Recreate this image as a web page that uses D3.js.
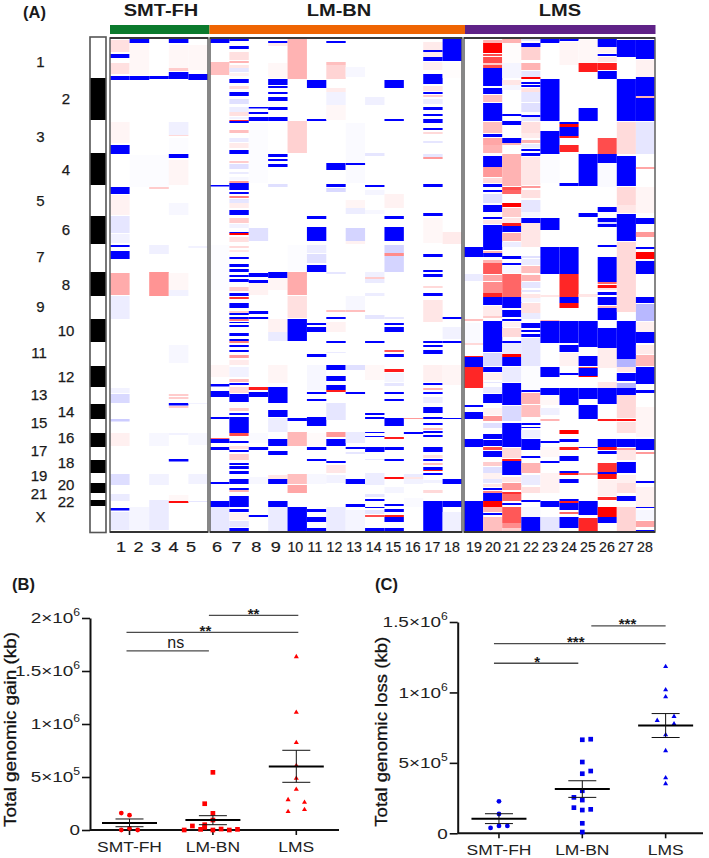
<!DOCTYPE html>
<html>
<head>
<meta charset="utf-8">
<script src="https://cdn.jsdelivr.net/npm/d3@7"></script>
<style>
  html, body { margin: 0; padding: 0; background: #fff; }
  svg { display: block; font-family: "Liberation Sans", Arial, sans-serif; }
</style>
</head>
<body>
<div id="chart"></div>
<script>
// heatmap: chromosomes along the genome track (0 - 494)
var chromNames = ["1","2","3","4","5","6","7","8","9","10","11","12","13","14","15","16","17","18","19","20","21","22","X"];
var chromStarts = [0,40,82,115,147,178,206,234,258,281,304,328,349,366,381,395,409,422,435,445,455,462,468];
var trackEnd = 494;

var groupNames = ["SMT-FH","LM-BN","LMS"];
var groupSamples = [[1,2,3,4,5],[6,7,8,9,10,11,12,13,14,15,16,17,18],[19,20,21,22,23,24,25,26,27,28]];

// segments per sample: [start, end, log ratio] (-1 = full loss, 1 = full gain)
var s1 = [[2,14,.12],[16,20,-1],[25,36,.12],[38,42,-1],[84,105,.04],[107,116,-1],[149,156,-1],[157,177,.05],[178,195,-.1],[196,205,-.05],[207,209,-1],[213,221,-1],[235,257,.33],[258,281,-.07],[350,355,-.05],[356,365,-.15],[381,383.5,-.2],[395,408,.06],[436,447,-.13],[456,463,-.08],[470,472.5,-1],[474,492,-.08]];
var s2 = [[1,5,-1],[5,37,.03],[38,42,-1],[117,149,-.01],[469,492,-.04]];
var s3 = [[38,41,-1],[117,149,-.01],[149,151,.2],[207,216,-.06],[234,258,.42],[395,408,-.03],[436,447,-.05],[462,492,-.08]];
var s4 = [[1,5,-1],[7,30,.03],[30,33,.2],[34,41,-1],[84,97,-.06],[97,98,.15],[100,115,-.01],[116,120,-1],[122,147,.04],[165,177,-.03],[235,252,.03],[252,258,-.05],[307,325,-.03],[356,358,.2],[359,361,.2],[365,367.5,-1],[368,370,.2],[395,397,-.05],[421,423.5,-1],[457,463,.03],[463,465,.95]];
var s5 = [[7,32,.03],[36,42,-1],[208,210,-.05],[365,366,-.05],[395,407,-.03],[436,446,-.05],[463,464,-.1]];
var s6 = [[1,5,-1],[24,37,.25],[147,148.5,-1],[207,252,-.01],[327,339,.04],[346,348.5,-1],[353,359,-1],[379,381,-1],[400,401,.6],[401,405,-1],[409,412,-1],[444,446,-1],[463,469,-1],[469,494,-.09]];
var s7 = [[1,3,-1],[8,11,-1],[14,22,.12],[23,25,.3],[27,30,.1],[30,34,-.1],[35,38,.05],[41,45,-1],[48,51,.15],[54,58,-1],[61,66,-.12],[69,74,-.07],[74,78,.12],[79,81,-.05],[82,83,.8],[83,85,-1],[92,95,.25],[100,104,-.08],[105,110,.08],[112,116,-1],[123,125,.2],[126,131,-.12],[134,136,-.08],[139,142,-.03],[143,145,.4],[145,152,-1],[154,156,-1],[158,160,.5],[161,165,-.1],[165,170,.07],[172,177,-1],[180,185,.2],[186,190,-.05],[194,195,-1],[195,197,1],[199,204,.12],[208,210,.15],[212,214,.1],[219,221,-1],[226,229,-1],[231,234,-1],[237,239,-1],[241,244,-1],[249,253,.2],[255,258,-1],[259,261,.8],[265,270,-1],[273,275,.2],[275,277,-1],[279,281,-1],[281,283,.5],[284,285,-1],[287,289,-1],[295,298,-1],[301,303,-1],[303,305,.5],[307,309,-1],[312,314,-1],[317,320,.4],[322,327,.08],[329,339,-.05],[341,344,.25],[345,347,-1],[349,355,.15],[356,364,-1],[370,373,.2],[375,377,-1],[379,395,-1],[395,398,.7],[403,405,-1],[408,411,.12],[412,414,-1],[416,422,.2],[425,427,-1],[428,431,-1],[433,436,-1],[441,446,-1],[450,452,-1],[452,454,.3],[458,469,-1],[471,474,-1],[475,482,.05],[483,489,-.1],[490,494,-1]];
var s8 = [[69,70.5,-1],[74,76,-1],[79,83,-1],[85,145,-.01],[190,203,-.12],[235,239,-1],[242,245,-1],[245,257,.05],[273,276,-1],[279,281,-1],[349,352,.9],[354,359,-1],[395,405,-.02],[409,412,-1],[439,446,-.03],[477,479,-1]];
var s9 = [[3,5,-1],[5,8,.08],[25,40,.03],[41,47,-1],[48,50,-1],[54,56,-1],[59,63,-1],[69,72,-1],[79,83,-1],[116,119,-1],[121,123,-1],[126,129,-1],[146,149,-.12],[234,240,-1],[240,252,.04],[281,294,.05],[294,303,-.08],[327,345,.04],[349,365,-1],[372,379,-1],[380,394,-.07],[401,408,-1],[413,417,-1],[437,441,.1],[441,446,-1],[463,469,-1],[469,494,-.08]];
var s10 = [[1,41,.3],[83,115,.18],[207,233,-.01],[234,257,.33],[258,280,.12],[281,303,-1],[380,383,-1],[394,408,.28],[436,446,.25],[447,455,.35],[469,494,-1]];
var s11 = [[42,50,-1],[81,83,-1],[178,181,-1],[189,203,-1],[207,215,-.07],[216,225,-.12],[227,234,-1],[285,287,-1],[289,294,-1],[316,319,-1],[327,352,-.03],[354,356,-1],[361,363,-1],[379,388,-1],[395,408,.02],[409,412,-1],[421,423,-1],[436,446,-.03],[471,474,-1],[479,484,-1],[490,494,-1]];
var s12 = [[3,5,-1],[24,27,.25],[27,41,.17],[50,54,.08],[54,67,-.05],[67,82,.03],[125,132,-1],[146,149,-1],[150,154,-.15],[234,236,-.1],[272,274,.25],[279,281,-1],[284,294,.05],[303,305,-1],[314,315,-.08],[327,332,-1],[338,343,-1],[347,352,-1],[352,354,.9],[365,382,-.1],[394,399,.4],[401,408,-1],[423,425,-1],[427,435,.1],[437,445,-.05],[469,494,-.08]];
var s13 = [[29,39,-.03],[85,145,-.02],[125,127,-1],[162,170,.04],[170,176,-.07],[190,203,-.17],[203,206,.05],[258,272,-.03],[272,274,.25],[327,332,-.12],[354,356,-1],[394,405,-.08],[409,411,-1],[414,416,-.1],[441,446,-1],[466,469,-1],[472,494,-.04]];
var s14 = [[59,67,-.06],[115,118,-.1],[147,149,-1],[152,157,-.04],[172,176,-.03],[234,239,-.06],[239,241,.2],[241,245,-.08],[255,258,-.07],[277,281,-.1],[303,305,-1],[327,342,.03],[375,377,-1],[379,381,-1],[394,395,-1],[398,399,-1],[409,414,-1],[421,422,-.1],[435,447,-.07],[456,459,-.1],[461,463,-1],[469,470,-1],[472,476,-.1],[477,479,.7],[490,494,-1]];
var s15 = [[42,50,-1],[81,83,-1],[156,170,.05],[178,181,-1],[189,203,-1],[207,215,-.17],[215,218,.45],[218,234,-.17],[279,281,-.1],[285,287,-1],[289,294,-1],[312,314,.65],[316,319,-1],[331,334,.9],[335,344,-.04],[345,348,-.1],[354,356,-1],[361,363,-1],[380,388,-1],[399,401,.9],[409,412,-1],[421,423,-1],[439,441,.95],[449,455,-.04],[466,468,-1],[471,474,-1],[477,479,.9],[479,484,-1],[490,494,-1]];
var s16 = [[380,381,.4],[394,396,-1],[436,439,-.08],[439,441,.1],[441,446,-.05],[460,469,-.02]];
var s17 = [[4,12,.08],[12,14,-1],[14,19,.08],[19,23,-1],[24,32,.06],[36,46,-1],[48,53,.1],[54,56,-1],[57,59,.2],[61,66,-.08],[69,72,-1],[76,78,-1],[81,85,-1],[90,92,-1],[94,96,.15],[103,105,-.1],[116,119,-.1],[119,121,.4],[146,149,-1],[175,178,-1],[180,205,.03],[216,219,-1],[232,234,-1],[236,239,-1],[248,250,.15],[255,258,-1],[262,284,.1],[303,305,-1],[307,309,-1],[312,316,-1],[327,344,.06],[345,347,-1],[350,352,.3],[354,356,-1],[359,365,-.07],[369,375,-1],[379,381,-1],[385,387,-1],[390,392,.25],[393,395,-1],[397,399,-1],[409,414,-1],[417,420,.12],[421,423,-1],[425,427,.25],[429,432,-1],[432,433,.9],[435,437,-1],[442,445,-.05],[452,455,.15],[463,494,-1]];
var s18 = [[1,23,-1],[24,40,.01],[194,206,.08],[279,281,-1],[289,301,-.05],[303,305,-1],[327,347,.04],[380,381,-1],[441,446,-1],[463,469,-1],[474,494,-.06]];
var s19 = [[209,219,-1],[236,243,-.08],[281,283,.25],[285,305,-.02],[305,307,.15],[318,319,.9],[319,329,-1],[329,350,.85],[367,369,-1],[374,381,-1],[401,409,-1],[463,494,-1]];
var s20 = [[2,5,.3],[5,15,1],[16,18,.7],[19,25,.7],[25,27,.2],[27,30,.7],[30,48,-1],[50,56,-1],[57,64,.25],[65,83,-1],[84,95,.25],[96,99,-1],[100,107,.35],[107,115,.3],[118,129,-1],[129,139,.4],[140,145,.15],[146,149,-1],[152,154,-1],[156,165,-.12],[167,174,-1],[179,181,-1],[182,186,.1],[187,212,-1],[213,215,.3],[215,219,-1],[222,225,.3],[225,236,.65],[237,243,.35],[244,255,.45],[255,259,.85],[259,267,-1],[268,278,.08],[278,280,.2],[283,314,-1],[315,328,-.15],[329,334,-1],[335,342,.06],[344,345,-.1],[349,355,-.08],[356,365,-1],[370,377,.05],[378,383,.4],[385,390,-.12],[396,401,-1],[402,408,-1],[409,412,.7],[413,419,-1],[424,428,.2],[429,435,-.12],[435,441,.05],[441,445,-.1],[446,449,.1],[450,452,-1],[453,455,.5],[455,463,-1],[463,469,1],[469,474,.3],[475,477,-1],[479,494,.25]];
var s21 = [[1,5,.3],[5,25,.01],[25,40,-.04],[42,47,.1],[47,52,-.04],[76,78,-1],[83,87,-1],[100,105,-1],[105,107,.3],[116,148,.3],[149,152,.7],[152,156,.6],[165,169,1],[170,179,.2],[180,185,.1],[185,188,.9],[188,194,-1],[195,203,.3],[204,209,-.07],[218,221,-1],[225,227,-1],[228,235,-.03],[236,259,.6],[259,270,-1],[272,279,-1],[281,283,-1],[284,289,.05],[290,299,.15],[303,305,-1],[305,316,-.08],[316,319,1],[319,328,-1],[329,344,-.08],[345,367,-1],[368,383,-.15],[385,409,-1],[410,420,.15],[421,423,.9],[423,437,-1],[439,444,.1],[445,452,.4],[454,456,.8],[456,463,.6],[465,467,-1],[469,485,.65],[485,490,.45],[490,494,.2]];
var s22 = [[1,3,-.1],[5,9,-1],[9,22,.18],[25,32,.3],[33,39,-.1],[39,41,1],[44,46,-1],[47,49,-1],[50,54,.12],[54,64,-.1],[65,74,-.12],[77,79,-1],[79,83,-.1],[84,95,.12],[95,100,.08],[102,105,.3],[106,110,-.08],[111,113,-1],[115,118,-1],[119,147,.1],[148,150,.4],[152,160,.12],[162,174,-.1],[174,179,-.03],[180,185,-1],[185,209,.1],[218,220,-.12],[221,227,-.08],[228,235,.25],[237,243,.3],[244,250,-.1],[252,254,-.1],[256,260,.1],[260,264,-.04],[265,275,.12],[275,281,-.08],[285,290,-1],[292,294,-1],[296,299,-1],[300,305,-.1],[305,328,-.1],[328,352,-.01],[352,354,-1],[355,366,.3],[367,379,.25],[385,387,-1],[389,390,-1],[392,400,-.06],[401,412,-1],[418,420,-1],[425,435,.3],[437,447,-.08],[449,455,.12],[462,464,-1],[469,479,-.03],[479,494,-1]];
var s23 = [[1,5,-1],[41,83,-1],[93,116,-1],[117,145,-.01],[180,192,-1],[209,236,-1],[257,259,.1],[282,283,.3],[283,305,-1],[329,339,-1],[350,357,-1],[358,367,.03],[370,377,-.06],[381,383,.3],[403,405,-1],[409,419,.03],[423,425,-1],[435,455,.05],[463,469,-1],[479,494,-.1]];
var s24 = [[1,3,-1],[4,27,.04],[84,86,-1],[86,89,1],[89,98,-1],[98,100,.9],[107,114,.85],[145,148,-1],[209,236,-1],[236,259,.85],[259,265,-1],[265,270,.95],[283,305,-1],[307,314,-1],[315,328,.05],[335,337,-1],[350,367,-1],[392,396,1],[401,404,-1],[409,412,.9],[418,423,-1],[433,435,-1],[435,437,.9],[441,445,-1],[461,463,-1],[463,465,.9],[465,472,-1],[474,476,.6],[479,490,-1]];
var s25 = [[2,25,.03],[25,34,.9],[70,83,-1],[116,148,-1],[175,179,-1],[256,259,.1],[283,309,-1],[318,328,-1],[329,330,.7],[330,338,-1],[338,339,1],[350,361,-1],[367,381,-1],[409,410,-1],[435,437,.4],[463,477,-1],[480,494,.85]];
var s26 = [[1,9,-1],[9,15,.05],[16,18,-1],[19,24,.1],[25,32,.9],[33,41,-1],[100,116,.7],[116,125,-1],[125,149,-.02],[169,174,-1],[180,184,-1],[184,186,-.15],[186,189,-1],[207,209,-1],[219,244,-1],[244,246,.6],[247,250,.95],[250,252,.1],[254,257,-1],[259,267,-1],[268,270,.3],[270,282,-1],[290,310,-1],[310,330,.07],[344,350,.1],[350,366,-1],[381,383,.9],[401,409,-1],[409,412,.95],[413,416,-1],[425,434,.8],[434,436,-1],[436,441,.95],[442,458,.06],[459,462,.85],[469,479,1],[479,485,-1]];
var s27 = [[2,19,-1],[41,83,-1],[84,116,.14],[118,148,-1],[149,167,.15],[167,175,.1],[176,203,-1],[204,274,.15],[283,321,-1],[321,329,-.3],[329,334,.1],[335,343,-1],[345,350,-.3],[350,357,-1],[357,380,.15],[381,383,.95],[384,395,.12],[401,409,-1],[410,412,.4],[412,422,.1],[424,435,-1],[437,445,.06],[445,455,.12],[458,463,-1],[469,494,.17]];
var s28 = [[2,21,-1],[22,39,.05],[39,58,-1],[58,60,.3],[60,83,-1],[84,116,-.1],[129,131,.35],[149,175,.04],[180,186,-1],[194,199,.4],[209,211,-1],[214,221,1],[223,236,-1],[259,265,-1],[266,283,-.28],[284,294,.06],[294,305,-1],[307,316,.08],[317,328,.28],[329,346,-1],[352,355,-1],[369,399,.04],[401,412,-1],[414,416,.4],[443,445,-1],[449,469,.05],[469,470,-1],[472,482,-.03],[483,489,.35],[492,494,-1]];
var sampleSegments = [s1,s2,s3,s4,s5,s6,s7,s8,s9,s10,s11,s12,s13,s14,s15,s16,s17,s18,s19,s20,s21,s22,s23,s24,s25,s26,s27,s28];

// panel B: total genomic gain (kb)
var gainSmtFh = [160000,140000,16000,0,0];
var gainSmtFhSlot = [-1,0,0,-1,1];
var gainLmBn = [544000,248000,157000,94000,50000,38000,25000,6000,0,0,9000,0,6000];
var gainLmBnSlot = [0,-1,0,0,-1,-2.5,-1,-1.5,-3.5,0,1,2,3];
var gainLms = [1635000,1110000,824000,607000,487000,384000,286000,261000,192000,173000];
var gainLmsSlot = [0,0,0,0,0,0,-1,1,1,-1];
var gainMean = [66000,94000,600000];
var gainUpper = [104000,135000,752000];
var gainLower = [31000,50000,450000];
var gainTicks = [0,500000,1000000,1500000,2000000];
var gainTickLabels = ["0","5×10|5","1×10|6","1.5×10|6","2×10|6"];
var gainSigFrom = ["LM-BN","SMT-FH","SMT-FH"];
var gainSigTo = ["LMS","LMS","LM-BN"];
var gainSigLevel = [2025000,1865000,1689000];
var gainSigText = ["**","**","ns"];

// panel C: total genomic loss (kb)
var lossSmtFh = [227000,137000,38000,52000,52000];
var lossSmtFhSlot = [0,0,-1,0,1];
var lossLmBn = [664000,668000,506000,423000,442000,302000,255000,236000,182000,165000,170000,71000,9000];
var lossLmBnSlot = [0,1,0,0,1,0,-1,0,-1,0,1,0,0];
var lossLms = [1183000,1018000,969000,829000,801000,777000,699000,586000,394000,352000];
var lossLmsSlot = [0,0,0,1,-1,1,0,0,0,0];
var lossMean = [104000,314000,765000];
var lossUpper = [139000,373000,850000];
var lossLower = [69000,255000,680000];
var lossTicks = [0,500000,1000000,1500000];
var lossTickLabels = ["0","5×10|5","1×10|6","1.5×10|6"];
var lossSigFrom = ["LM-BN","SMT-FH","SMT-FH"];
var lossSigTo = ["LMS","LMS","LM-BN"];
var lossSigLevel = [1472000,1346000,1207000];
var lossSigText = ["***","***","*"];

var width = 709, height = 858;
var svg = d3.select("#chart").append("svg").attr("width", width).attr("height", height);
var ink = "#1a1a1a";

// the source figure is soft, this takes the edge off the heat cells
svg.append("defs").append("filter").attr("id", "soft")
    .attr("x", "-1%").attr("y", "-1%").attr("width", "102%").attr("height", "102%")
    .append("feGaussianBlur").attr("stdDeviation", 0.45);

function panelLabel(text, x, y){
    svg.append("text").attr("x", x).attr("y", y)
        .attr("font-size", 16.5).attr("font-weight", "bold").attr("fill", ink).text(text);
}
panelLabel("(A)", 23, 18);
panelLabel("(B)", 12, 590);
panelLabel("(C)", 375, 590);

/* ---- heatmap ---- */
var yTrack = d3.scaleLinear().domain([0, trackEnd]).range([38, 532]);
var heatColor = d3.scaleLinear().domain([-1, 0, 1]).range(["#0000ff", "#ffffff", "#ff0000"]);

var panelRanges = [[110,208],[210,462],[464,655]];
var headerRanges = [[110,209.5],[209.5,465],[465,655.5]];
var headerColors = ["#0b7a2d", "#ef6402", "#5f2287"];
var labelRanges = [[121,191],[217,452],[474,645]];
var groupLabelX = [161, 339, 560];

var heat = svg.append("g").attr("class", "heat").attr("filter", "url(#soft)");

groupNames.forEach(function(name, g){
    var xBand = d3.scaleBand().domain(groupSamples[g]).range(panelRanges[g]);
    var xLabel = d3.scalePoint().domain(groupSamples[g]).range(labelRanges[g]);

    svg.append("text")
        .attr("transform", "translate(" + groupLabelX[g] + ",15.5) scale(1.18,1)")
        .attr("text-anchor", "middle").attr("font-size", 17).attr("font-weight", "bold")
        .attr("fill", ink).text(name);

    svg.append("rect").attr("x", headerRanges[g][0]).attr("y", 25)
        .attr("width", headerRanges[g][1] - headerRanges[g][0]).attr("height", 9)
        .attr("fill", headerColors[g]);

    var col = heat.selectAll("g.col" + g).data(groupSamples[g]).enter().append("g").attr("class", "col" + g);
    col.selectAll("rect")
        .data(function(d){ return sampleSegments[d - 1]; })
        .enter().append("rect")
        .attr("x", function(){ return xBand(d3.select(this.parentNode).datum()); })
        .attr("width", xBand.bandwidth())
        .attr("y", function(d){ return yTrack(d[0]); })
        .attr("height", function(d){ return yTrack(d[1]) - yTrack(d[0]); })
        .attr("fill", function(d){ return heatColor(d[2]); });

    // frame, grey on the sides and darker top and bottom
    var x0 = panelRanges[g][0], x1 = panelRanges[g][1];
    svg.append("rect").attr("x", x0).attr("y", yTrack(0)).attr("width", x1 - x0).attr("height", yTrack(trackEnd) - yTrack(0))
        .attr("fill", "none").attr("stroke", "#6a6a6a").attr("stroke-width", 1.6);
    svg.append("line").attr("x1", x0).attr("x2", x1).attr("y1", yTrack(0)).attr("y2", yTrack(0))
        .attr("stroke", "#222").attr("stroke-width", 1.4);
    svg.append("line").attr("x1", x0).attr("x2", x1).attr("y1", yTrack(trackEnd)).attr("y2", yTrack(trackEnd))
        .attr("stroke", "#333").attr("stroke-width", 2);

    // single digits are drawn wider in the source than the two digit ones
    svg.append("g").selectAll("text").data(groupSamples[g]).enter().append("text")
        .attr("transform", function(d){ return "translate(" + xLabel(d) + ",552) scale(" + (d < 10 ? 1.25 : 0.98) + ",1)"; })
        .attr("text-anchor", "middle").attr("font-size", 14.5).attr("fill", ink)
        .attr("stroke", ink).attr("stroke-width", 0.2)
        .text(function(d){ return d; });
});

// chromosome strip and labels
var chromEnds = chromStarts.slice(1).concat([trackEnd]);
var labelNudge = [4,0,0,1,0,0,-1,1,-1,0,-1,0,-1,0,-3,-2,-3,-4,-2,-3,-3,-1,-2];
svg.append("g").selectAll("rect").data(chromNames).enter().append("rect")
    .attr("x", 90).attr("width", 16)
    .attr("y", function(d, i){ return yTrack(chromStarts[i]); })
    .attr("height", function(d, i){ return yTrack(chromEnds[i]) - yTrack(chromStarts[i]); })
    .attr("fill", function(d, i){ return i % 2 ? "#000" : "#fff"; });
svg.append("rect").attr("x", 90).attr("y", 37).attr("width", 16).attr("height", 495.5)
    .attr("fill", "none").attr("stroke", "#555").attr("stroke-width", 1.6);

svg.append("g").selectAll("text").data(chromNames).enter().append("text")
    .attr("x", function(d, i){ return i % 2 ? 66 : (d.length > 1 ? 39 : 40.5); })
    .attr("y", function(d, i){ return (yTrack(chromStarts[i]) + yTrack(chromEnds[i])) / 2 + labelNudge[i]; })
    .attr("dy", "0.36em").attr("text-anchor", "middle").attr("font-size", 15).attr("fill", ink)
    .attr("stroke", ink).attr("stroke-width", 0.25)
    .text(function(d){ return d; });

/* ---- scatter panels ---- */
function scatterPanel(o){
    var g = svg.append("g");
    var x = d3.scaleBand().domain(groupNames).range(o.xRange);
    var y = d3.scaleLinear().domain([0, o.yMax]).range(o.yRange);
    var center = function(name){ return x(name) + x.bandwidth() / 2; };

    o.sigFrom.forEach(function(from, i){
        var x0 = center(from) + o.sigNudge[i][0], x1 = center(o.sigTo[i]) + o.sigNudge[i][1];
        g.append("line").attr("x1", x0).attr("x2", x1)
            .attr("y1", y(o.sigLevel[i])).attr("y2", y(o.sigLevel[i]))
            .attr("stroke", "#4a4a4a").attr("stroke-width", 1.3);
        var isNs = o.sigText[i] === "ns";
        g.append("text").attr("x", (x0 + x1) / 2 + o.sigNudge[i][2])
            .attr("y", y(o.sigLevel[i]) + (isNs ? -3 : 3.5))
            .attr("text-anchor", "middle").attr("fill", ink)
            .attr("font-size", isNs ? 16 : 15).attr("font-weight", isNs ? "normal" : "bold")
            .text(o.sigText[i]);
    });

    // the figure was stretched sideways, so axis text is wider than it is tall
    var axisY = d3.axisLeft(y).tickValues(o.ticks).tickSize(8).tickPadding(3).tickSizeOuter(0).tickFormat("");
    var gy = g.append("g").attr("transform", "translate(" + o.yAxisX + ",0)").call(axisY);
    gy.selectAll(".tick text").each(function(d, i){
        var parts = o.tickLabels[i].split("|");
        var t = d3.select(this).attr("font-size", 15.5).attr("fill", "#222")
            .attr("font-family", "Liberation Sans")
            .attr("x", -10 / 1.22).attr("transform", "scale(1.22,1)").text(parts[0]);
        if(parts[1]){
            t.append("tspan").attr("font-size", 10).attr("dy", "-0.7em").text(parts[1]);
        }
    });

    var axisX = d3.axisBottom(x).tickSize(5).tickSizeOuter(0);
    var gx = g.append("g").attr("transform", "translate(0," + o.yRange[0] + ")").call(axisX);
    gx.select(".domain").attr("d", "M" + o.yAxisX + ",0H" + o.xAxisEnd);
    gx.selectAll(".tick text").attr("font-size", 14.8).attr("fill", "#222").attr("y", 11)
        .attr("font-family", "Liberation Sans").attr("transform", "scale(1.18,1)");

    g.selectAll(".domain").attr("stroke", "#111").attr("stroke-width", 2);
    g.selectAll(".tick line").attr("stroke", "#111").attr("stroke-width", 1.6);

    g.append("text")
        .attr("transform", "translate(" + o.titleX + "," + o.titleY + ") rotate(-90)")
        .attr("text-anchor", "middle").attr("font-size", 17).attr("fill", "#111")
        .attr("stroke", "#111").attr("stroke-width", 0.3)
        .attr("textLength", o.titleLength).attr("lengthAdjust", "spacingAndGlyphs")
        .text(o.title);

    var symbols = [d3.symbolCircle, d3.symbolSquare, d3.symbolTriangle];
    var symbolSizes = [18, 22, 11];
    o.values.forEach(function(vals, k){
        g.append("g").selectAll("path").data(vals).enter().append("path")
            .attr("d", d3.symbol().type(symbols[k]).size(symbolSizes[k]))
            .attr("fill", o.color)
            .attr("transform", function(d, i){
                return "translate(" + (center(groupNames[k]) + o.slots[k][i] * o.slotWidth) + "," + y(d) + ")";
            });
    });

    groupNames.forEach(function(name, k){
        var cx = center(name);
        g.append("line").attr("x1", cx - 27.5).attr("x2", cx + 27.5).attr("y1", y(o.mean[k])).attr("y2", y(o.mean[k]))
            .attr("stroke", "#000").attr("stroke-width", 2);
        g.append("line").attr("x1", cx).attr("x2", cx).attr("y1", y(o.upper[k])).attr("y2", y(o.lower[k]))
            .attr("stroke", "#111").attr("stroke-width", 1);
        [o.upper[k], o.lower[k]].forEach(function(v){
            g.append("line").attr("x1", cx - 14).attr("x2", cx + 14).attr("y1", y(v)).attr("y2", y(v))
                .attr("stroke", "#111").attr("stroke-width", 1);
        });
    });
}

scatterPanel({
    title: "Total genomic gain (kb)", titleX: 15.8, titleY: 729.5, titleLength: 195,
    xRange: [87.8, 338], xAxisEnd: 339, yAxisX: 90, yMax: 2000000, yRange: [830, 618],
    color: "#ff0000", slotWidth: 8.2,
    ticks: gainTicks, tickLabels: gainTickLabels,
    values: [gainSmtFh, gainLmBn, gainLms], slots: [gainSmtFhSlot, gainLmBnSlot, gainLmsSlot],
    mean: gainMean, upper: gainUpper, lower: gainLower,
    sigFrom: gainSigFrom, sigTo: gainSigTo, sigLevel: gainSigLevel, sigText: gainSigText,
    sigNudge: [[-4,2,0],[-3,2,-7],[-3,-4,8]]
});

scatterPanel({
    title: "Total genomic loss (kb)", titleX: 387, titleY: 731.7, titleLength: 190,
    xRange: [457.3, 707.3], xAxisEnd: 703, yAxisX: 457.7, yMax: 1500000, yRange: [833.3, 622],
    color: "#0000ee", slotWidth: 8.4,
    ticks: lossTicks, tickLabels: lossTickLabels,
    values: [lossSmtFh, lossLmBn, lossLms], slots: [lossSmtFhSlot, lossLmBnSlot, lossLmsSlot],
    mean: lossMean, upper: lossUpper, lower: lossLower,
    sigFrom: lossSigFrom, sigTo: lossSigTo, sigLevel: lossSigLevel, sigText: lossSigText,
    sigNudge: [[9,0,-1],[-5,0,-4],[-5,-4,1]]
});
</script>
</body>
</html>
